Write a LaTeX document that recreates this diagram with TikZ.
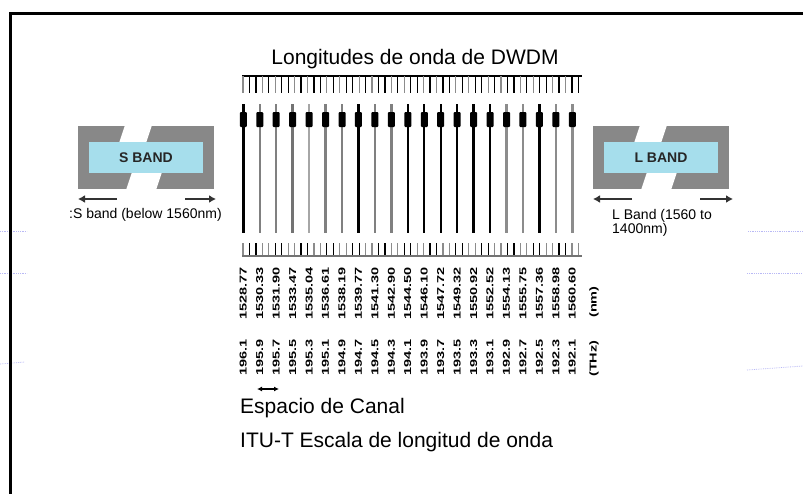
\documentclass[tikz,border=0pt]{standalone}
\usepackage{fontspec}
\setmainfont{Liberation Sans}
\usetikzlibrary{arrows.meta,positioning}

\definecolor{bandblue}{RGB}{166,222,236}
\definecolor{bandgray}{RGB}{136,136,136}
\definecolor{dotblue}{RGB}{185,185,245}

\begin{document}
\begin{tikzpicture}[
  x=1pt, y=-1pt,
  frame/.style={line width=3pt, line cap=rect},
  bigtext/.style={font=\fontsize{21}{25}\selectfont, inner sep=0pt},
  smalltext/.style={font=\fontsize{14}{13}\selectfont, inner sep=0pt, align=left},
  bandlabel/.style={fill=bandblue, minimum width=114pt, minimum height=31pt, inner sep=0pt, font=\fontsize{14}{16}\selectfont\bfseries, text=black!85},
  bandarrow/.style={-{Latex[length=7pt, width=8pt]}, line width=2.5pt, black!80},
  scalelabel/.style={rotate=90, anchor=west, inner sep=0pt, font=\fontsize{10}{10}\selectfont\bfseries},
  chanbar/.style={line width=2.4pt},
  tick/.style={line width=1.2pt},
  faint/.style={dotblue, densely dotted, line width=0.8pt}
]
\useasboundingbox (0,0) rectangle (803,493);

% faint guide lines behind the slide
\draw[faint] (0,231) -- (27,231);
\draw[faint] (0,273) -- (27,273);
\draw[faint] (0,364) -- (25,362);
\draw[faint] (748,231) -- (803,231);
\draw[faint] (747,273) -- (803,273);
\draw[faint] (747,370) -- (803,366);

% frame
\draw[frame] (10,495) -- (10,13) -- (805,13);

\node[bigtext, anchor=base] (title) at (415,64) {Longitudes de onda de DWDM};

% top scale
\draw[line width=1.5pt] (242,76) -- (582,76);
\foreach \k in {0,...,52} {
  \pgfmathtruncatemacro\g{mod(\k*7,5)}
  \ifnum\g<2
    \draw[tick, black!45] (243+6.45*\k,76) -- (243+6.45*\k,93);
  \else
    \draw[tick] (243+6.45*\k,76) -- (243+6.45*\k,93);
  \fi
}

% channels
\foreach \i/\c in {0/black, 1/black!50, 2/black!50, 3/black!55, 4/black!35, 5/black!50,
                   6/black!50, 7/black, 8/black!50, 9/black!50, 10/black, 11/black,
                   12/black, 13/black, 14/black, 15/black, 16/black!45, 17/black!45,
                   18/black, 19/black!45, 20/black!45} {
  \draw[chanbar, \c] (243.3+16.45*\i,104) -- (243.3+16.45*\i,233);
  \fill[black, rounded corners=1pt] (239.8+16.45*\i,112) rectangle (246.8+16.45*\i,127);
}

% bottom scale
\foreach \k in {0,...,52} {
  \pgfmathtruncatemacro\g{mod(\k*3,4)}
  \ifnum\g<2
    \draw[tick, black!45] (243+6.45*\k,243) -- (243+6.45*\k,256);
  \else
    \draw[tick] (243+6.45*\k,243) -- (243+6.45*\k,256);
  \fi
}
\draw[line width=2pt, black!55] (242,256) -- (582,256);

% wavelength and frequency labels
\foreach \i/\nm/\thz in {0/1528.77/196.1, 1/1530.33/195.9, 2/1531.90/195.7, 3/1533.47/195.5,
                         4/1535.04/195.3, 5/1536.61/195.1, 6/1538.19/194.9, 7/1539.77/194.7,
                         8/1541.30/194.5, 9/1542.90/194.3, 10/1544.50/194.1, 11/1546.10/193.9,
                         12/1547.72/193.7, 13/1549.32/193.5, 14/1550.92/193.3, 15/1552.52/193.1,
                         16/1554.13/192.9, 17/1555.75/192.7, 18/1557.36/192.5, 19/1558.98/192.3,
                         20/1560.60/192.1} {
  \node[scalelabel] (nm\i) at (243.3+16.45*\i,320) {\scalebox{1.45}[1]{\nm}};
  \node[scalelabel] (thz\i) at (243.3+16.45*\i,376) {\scalebox{1.45}[1]{\thz}};
}
\node[scalelabel] (nmunit) at (594,318) {\scalebox{1.45}[1]{(nm)}};
\node[scalelabel] (thzunit) at (594,377) {\scalebox{1.45}[1]{(THz)}};

% channel spacing
\coordinate (sp1) at (257,389);
\coordinate (sp2) at (279,389);
\draw[{Latex[length=5pt, width=5pt]}-{Latex[length=5pt, width=5pt]}, line width=1.2pt] (sp1) -- (sp2);
\node[bigtext, anchor=base west] (spacing) at (240,413) {Espacio de Canal};
\node[bigtext, anchor=base west] (itu) at (240,447) {ITU-T Escala de longitud de onda};

% S band
\begin{scope}[shift={(78,126)}]
  \fill[bandgray] (0,0) rectangle (136,63);
  \fill[white] (47,-1) -- (74,-1) -- (68,17) -- (41,17) -- cycle;
  \fill[white] (54,46) -- (84,46) -- (78,64) -- (48,64) -- cycle;
  \node[bandlabel] (sband) at (68,31.5) {S BAND};
  \coordinate (sl1) at (39,73);
  \coordinate (sl2) at (0,73);
  \coordinate (sr1) at (107,73);
  \coordinate (sr2) at (138,73);
  \draw[bandarrow] (sl1) -- (sl2);
  \draw[bandarrow] (sr1) -- (sr2);
  \node[smalltext, anchor=west] (stext) at (-9,89) {:S band (below 1560nm)};
\end{scope}

% L band
\begin{scope}[shift={(593,126)}]
  \fill[bandgray] (0,0) rectangle (136,63);
  \fill[white] (47,-1) -- (74,-1) -- (68,17) -- (41,17) -- cycle;
  \fill[white] (54,46) -- (84,46) -- (78,64) -- (48,64) -- cycle;
  \node[bandlabel] (lband) at (68,31.5) {L BAND};
  \coordinate (ll1) at (39,73);
  \coordinate (ll2) at (0,73);
  \coordinate (lr1) at (107,73);
  \coordinate (lr2) at (140,73);
  \draw[bandarrow] (ll1) -- (ll2);
  \draw[bandarrow] (lr1) -- (lr2);
  \node[smalltext, anchor=north west] (ltext) at (19,83) {L Band (1560 to\\1400nm)};
\end{scope}
\end{tikzpicture}
\end{document}
